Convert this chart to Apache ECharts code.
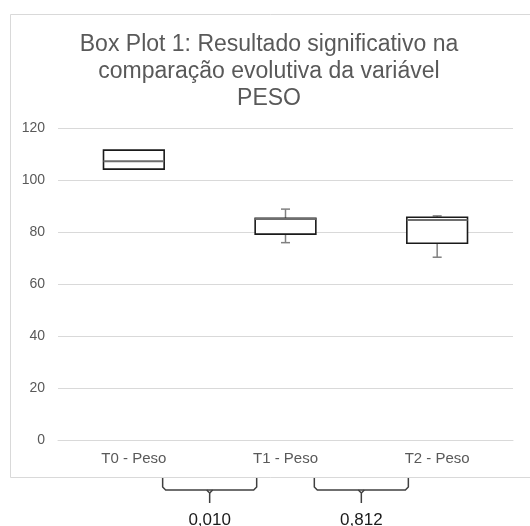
<!DOCTYPE html>
<html>
<head>
<meta charset="utf-8">
<script src="https://cdn.jsdelivr.net/npm/echarts@6/dist/echarts.min.js"></script>
<style>html,body{margin:0;padding:0;background:#fff;}#c{width:530px;height:526px;}</style>
</head>
<body>
<div id="c"></div>
<script>
const categories = ['T0 - Peso', 'T1 - Peso', 'T2 - Peso'];
const minVals    = [104.2, 75.9, 70.3];
const q1Vals     = [104.2, 79.2, 75.7];
const medianVals = [107.2, 85.0, 84.6];
const q3Vals     = [111.5, 85.3, 85.7];
const maxVals    = [111.5, 88.8, 86.2];
const yTicks = [0, 20, 40, 60, 80, 100, 120];
const comparePairs = [[0, 1], [1, 2]];
const pValues = ['0,010', '0,812'];

const FONT = '"Liberation Sans", Arial, sans-serif';
const data = categories.map((c, i) => [i, minVals[i], q1Vals[i], medianVals[i], q3Vals[i], maxVals[i]]);

const chart = echarts.init(document.getElementById('c'), null, {renderer: 'canvas'});

function renderBox(params, api) {
  const idx = api.value(0);
  const band = api.size([1, 0])[0];
  const w = band * 0.4;
  const cap = 7;
  const x = api.coord([idx, 0])[0];
  const yMin = api.coord([idx, api.value(1)])[1];
  const yQ1 = api.coord([idx, api.value(2)])[1];
  const yMed = api.coord([idx, api.value(3)])[1];
  const yQ3 = api.coord([idx, api.value(4)])[1];
  const yMax = api.coord([idx, api.value(5)])[1];
  const grey = {stroke: '#808080', lineWidth: 1.5, fill: null};
  const children = [];
  if (yMax < yQ3 - 0.5) {
    children.push({type: 'line', shape: {x1: x, y1: yQ3, x2: x, y2: yMax}, style: grey});
    children.push({type: 'line', shape: {x1: x - cap / 2 - 1, y1: yMax, x2: x + cap / 2 + 1, y2: yMax}, style: grey});
  }
  if (yMin > yQ1 + 0.5) {
    children.push({type: 'line', shape: {x1: x, y1: yQ1, x2: x, y2: yMin}, style: grey});
    children.push({type: 'line', shape: {x1: x - cap / 2 - 1, y1: yMin, x2: x + cap / 2 + 1, y2: yMin}, style: grey});
  }
  children.push({type: 'rect', shape: {x: x - w / 2, y: yQ3, width: w, height: yQ1 - yQ3},
    style: {fill: '#ffffff', stroke: '#1a1a1a', lineWidth: 1.6}});
  children.push({type: 'line', shape: {x1: x - w / 2, y1: yMed, x2: x + w / 2, y2: yMed},
    style: {stroke: '#6e6e6e', lineWidth: 2}});
  return {type: 'group', children: children};
}

chart.setOption({
  animation: false,
  backgroundColor: '#ffffff',
  title: {
    text: 'Box Plot 1: Resultado significativo na\ncomparação evolutiva da variável\nPESO',
    left: 264, top: 26, textAlign: 'center',
    textStyle: {fontFamily: FONT, fontSize: 23, fontWeight: 'normal', color: '#595959', lineHeight: 27}
  },
  grid: {left: 58, right: 17, top: 128, bottom: 86, containLabel: false},
  xAxis: {
    type: 'category', data: categories,
    axisLine: {lineStyle: {color: '#d9d9d9', width: 1}},
    axisTick: {show: false},
    axisLabel: {fontFamily: FONT, fontSize: 15, color: '#595959', margin: 11},
    splitLine: {show: false}
  },
  yAxis: {
    type: 'value', min: yTicks[0], max: yTicks[yTicks.length - 1], interval: yTicks[1] - yTicks[0],
    axisLine: {show: false}, axisTick: {show: false},
    axisLabel: {fontFamily: FONT, fontSize: 14, color: '#595959', margin: 13},
    splitLine: {lineStyle: {color: '#d9d9d9', width: 1}}
  },
  series: [{
    type: 'custom', renderItem: renderBox, data: data,
    encode: {x: 0, y: [1, 2, 3, 4, 5]}, clip: false
  }]
});

// annotations: frame and comparison brackets
const graphics = [{
  type: 'rect', shape: {x: 10.5, y: 14.5, width: 530, height: 463},
  style: {fill: null, stroke: '#d9d9d9', lineWidth: 1}, z: -1
}];
comparePairs.forEach((pair, k) => {
  const xa = chart.convertToPixel({xAxisIndex: 0}, categories[pair[0]]);
  const xb = chart.convertToPixel({xAxisIndex: 0}, categories[pair[1]]);
  const mid = (xa + xb) / 2;
  const half = (xb - xa) * 0.31;
  const l = mid - half, r = mid + half;
  const top = 478, hy = 490, bot = 503, rr = 3;
  graphics.push({
    type: 'polyline',
    shape: {points: [[l, top], [l, hy - rr], [l + rr, hy], [r - rr, hy], [r, hy - rr], [r, top]]},
    style: {stroke: '#404040', lineWidth: 1.5, fill: null}
  });
  graphics.push({
    type: 'polyline',
    shape: {points: [[mid - 3, hy], [mid, hy + 3], [mid, bot]]},
    style: {stroke: '#404040', lineWidth: 1.5, fill: null}
  });
  graphics.push({
    type: 'polyline',
    shape: {points: [[mid + 3, hy], [mid, hy + 3]]},
    style: {stroke: '#404040', lineWidth: 1.5, fill: null}
  });
  graphics.push({
    type: 'text', x: mid, y: 520,
    style: {text: pValues[k], fontFamily: FONT, fontSize: 17, fill: '#1a1a1a', align: 'center', verticalAlign: 'middle'}
  });
});
chart.setOption({graphic: graphics});
</script>
</body>
</html>
